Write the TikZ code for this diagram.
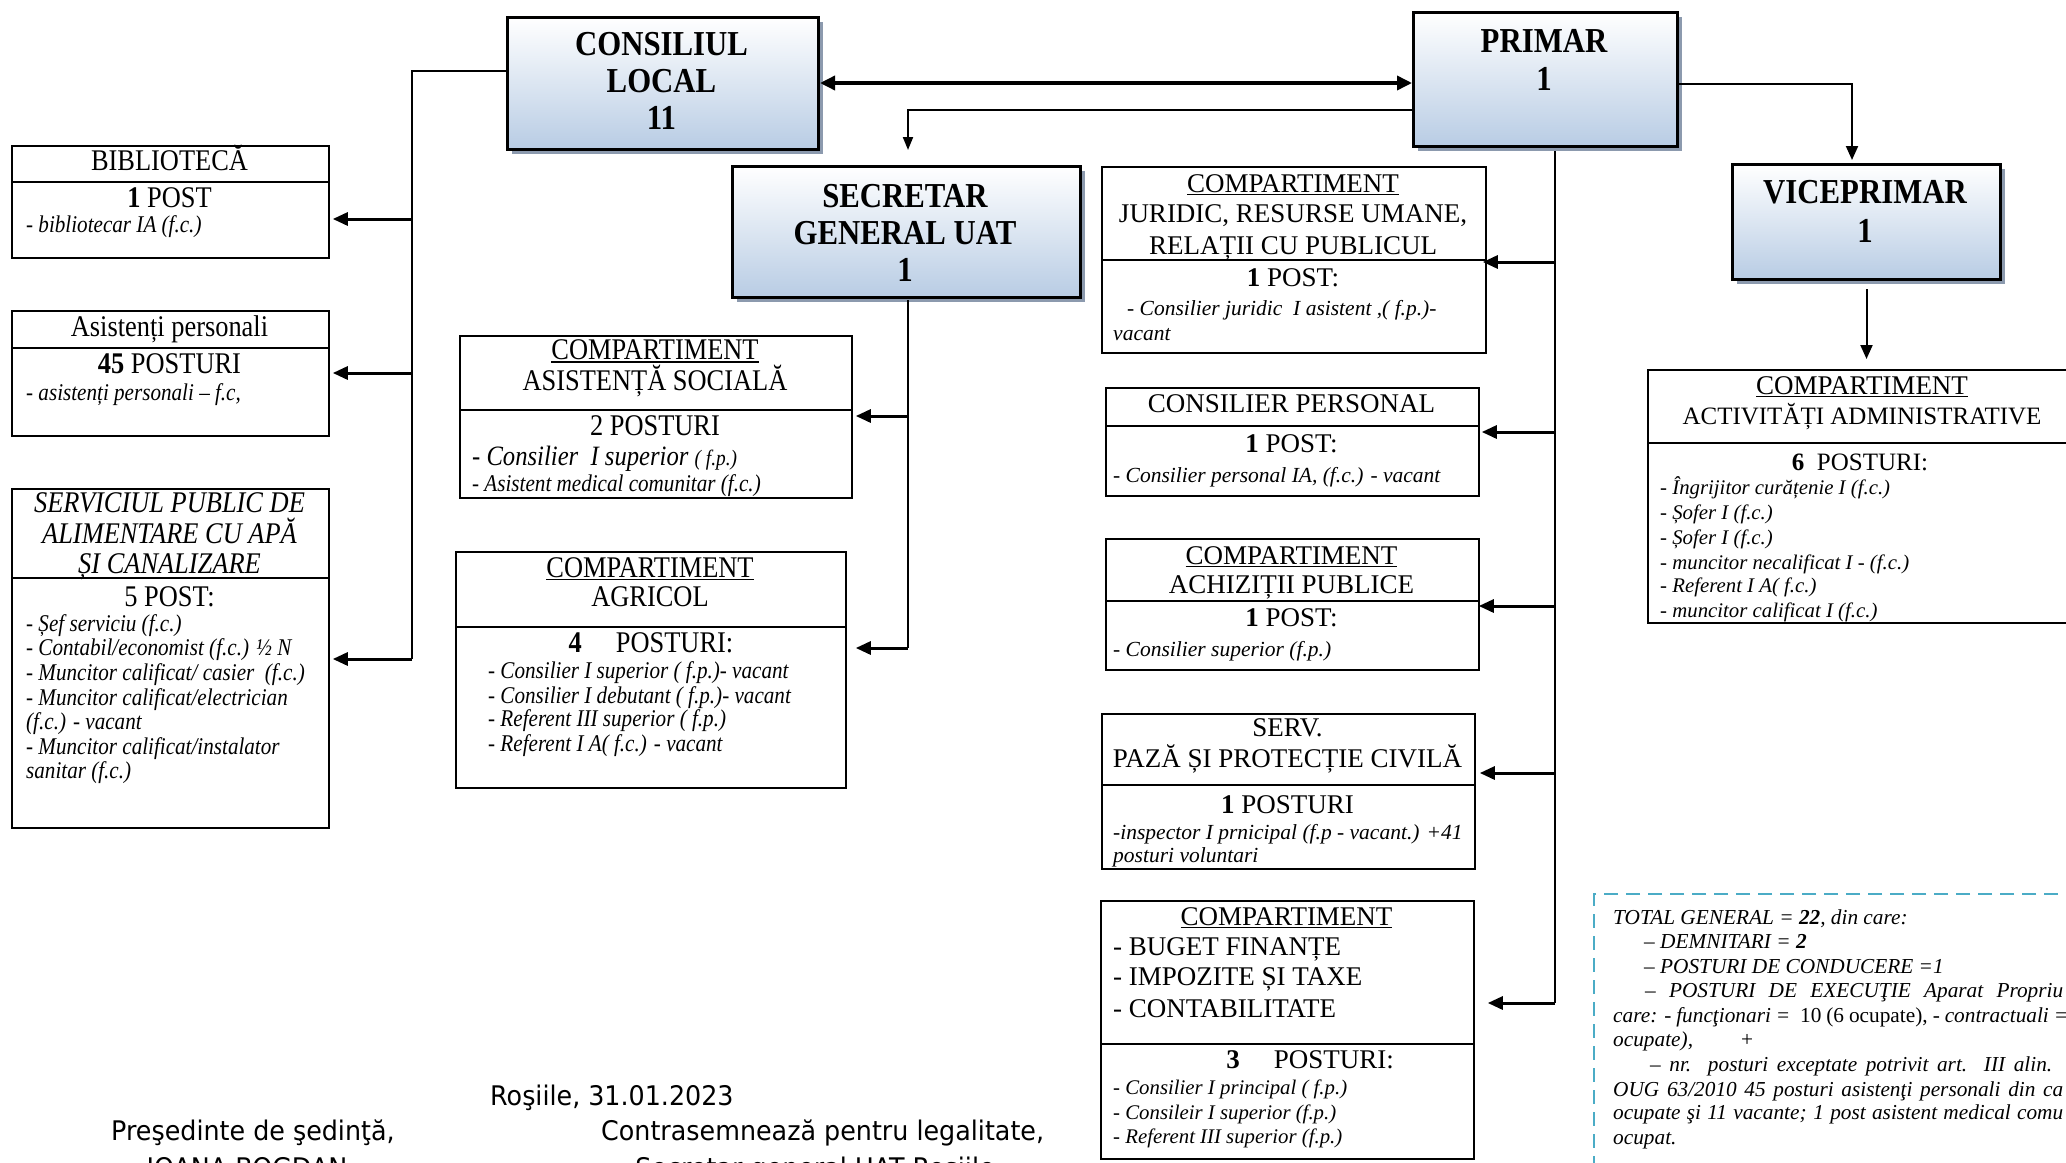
\documentclass[tikz,border=0pt]{standalone}
\usepackage{fontspec}
\setmainfont{Liberation Serif}
\newfontfamily\cserif[FakeStretch=0.88]{Liberation Serif}
\newfontfamily\csans[FakeStretch=0.94]{DejaVu Sans}
\usetikzlibrary{arrows.meta,calc,shadows}
\definecolor{boxblue}{HTML}{B8CCE4}
\definecolor{shadowc}{HTML}{8C9AAE}
\definecolor{dashc}{HTML}{4BACC6}
\newcommand\ulc[1]{\setbox0\hbox{#1}\rlap{\rule[-3pt]{\wd0}{1.2pt}}\box0}
\newcommand\fTop{\cserif\bfseries\fontsize{35}{37}\selectfont}
\newcommand\fLT{\cserif\fontsize{30}{31}\selectfont}
\newcommand\fLI{\cserif\itshape\fontsize{24}{25}\selectfont}
\newcommand\fRT{\fontsize{27}{30}\selectfont}
\newcommand\fRI{\itshape\fontsize{21.5}{24}\selectfont}
\newcommand\fAT{\fontsize{25}{28}\selectfont}
\newcommand\fAI{\itshape\fontsize{20.8}{24}\selectfont}
\newcommand\fTot{\itshape\fontsize{21.3}{24}\selectfont}
\newcommand\fSans{\csans\fontsize{27}{30}\selectfont}
\tikzset{
 topbox/.style 2 args={draw, line width=3pt, minimum width=#1pt, minimum height=#2pt, anchor=north west, inner sep=0pt, top color=white, bottom color=boxblue, drop shadow={shadow xshift=4pt, shadow yshift=-4pt, fill=shadowc, opacity=1}},
 orgbox/.style 2 args={draw, line width=1.8pt, minimum width=#1pt, minimum height=#2pt, anchor=north west, inner sep=0pt},
 divl/.style={line width=1.8pt},
 bus/.style={line width=2pt},
 stub/.style={line width=3pt, -{Triangle[length=15pt,width=13pt]}},
 t/.style={inner sep=0pt, anchor=base},
 tl/.style={inner sep=0pt, anchor=base west},
}
\begin{document}
\begin{tikzpicture}[x=1pt,y=-1pt]
\useasboundingbox (0,0) rectangle (2066,1162);
\fill[white] (0,0) rectangle (2066,1162);

% ---------- top boxes ----------
\node[topbox={311}{132}] (cl) at (506,16) {};
\node[topbox={264}{134}] (pr) at (1412,11) {};
\node[topbox={348}{131}] (sgu) at (731,165) {};
\node[topbox={268}{115}] (vice) at (1731,163) {};
\node[t] (clA) at (661.5,55) {\fTop CONSILIUL};
\node[t] (clB) at (661.5,92) {\fTop LOCAL};
\node[t] (clC) at (661.5,129) {\fTop 11};
\node[t] (prA) at (1544,52) {\fTop PRIMAR};
\node[t] (prB) at (1544,90) {\fTop 1};
\node[t] (sgA) at (905,207) {\fTop SECRETAR};
\node[t] (sgB) at (905,244) {\fTop GENERAL UAT};
\node[t] (sgC) at (905,281) {\fTop 1};
\node[t] (viA) at (1865,203) {\fTop VICEPRIMAR};
\node[t] (viB) at (1865,242) {\fTop 1};

% ---------- left column ----------
\node[orgbox={317}{112}] (bib) at (11,145) {};
\draw[divl] ($(bib.north west)+(0,37)$) -- ($(bib.north east)+(0,37)$);
\node[t] (bibT) at (169.5,170) {\fLT BIBLIOTECĂ};
\node[t] (bibP) at (169.5,207) {\fLT\textbf{1} POST};
\node[tl] (bib1) at (26,232) {\fLI - bibliotecar IA (f.c.)};

\node[orgbox={317}{125}] (asp) at (11,310) {};
\draw[divl] ($(asp.north west)+(0,38)$) -- ($(asp.north east)+(0,38)$);
\node[t] (aspT) at (169.5,336) {\fLT Asistenți personali};
\node[t] (aspP) at (169.5,373) {\fLT\textbf{45} POSTURI};
\node[tl] (asp1) at (26,400) {\fLI - asistenți personali – f.c,};

\node[orgbox={317}{339}] (spa) at (11,488) {};
\draw[divl] ($(spa.north west)+(0,90)$) -- ($(spa.north east)+(0,90)$);
\node[t] (spaT1) at (169.5,512) {\fLT\itshape SERVICIUL PUBLIC DE};
\node[t] (spaT2) at (169.5,543) {\fLT\itshape ALIMENTARE CU APĂ};
\node[t] (spaT3) at (169.5,573) {\fLT\itshape ȘI CANALIZARE};
\node[t] (spaP) at (169.5,606) {\fLT 5 POST:};
\node[tl] (spa1) at (26,631) {\fLI - Șef serviciu (f.c.)};
\node[tl] (spa2) at (26,655) {\fLI - Contabil/economist (f.c.) ½ N};
\node[tl] (spa3) at (26,680) {\fLI - Muncitor calificat/ casier\ \ (f.c.)};
\node[tl] (spa4) at (26,705) {\fLI - Muncitor calificat/electrician};
\node[tl] (spa5) at (26,729) {\fLI (f.c.) - vacant};
\node[tl] (spa6) at (26,754) {\fLI - Muncitor calificat/instalator};
\node[tl] (spa7) at (26,778) {\fLI sanitar (f.c.)};

% ---------- secretar column ----------
\node[orgbox={392}{162}] (asoc) at (459,335) {};
\draw[divl] ($(asoc.north west)+(0,75)$) -- ($(asoc.north east)+(0,75)$);
\node[t] (asocT1) at (655,359.5) {\fLT\ulc{COMPARTIMENT}};
\node[t] (asocT2) at (655,390) {\fLT ASISTENȚĂ SOCIALĂ};
\node[t] (asocP) at (655,435) {\fLT 2 POSTURI};
\node[tl] (asoc1) at (472,465) {\cserif\itshape\fontsize{28}{30}\selectfont - Consilier\ \ I superior {\fontsize{22}{24}\selectfont ( f.p.)}};
\node[tl] (asoc2) at (472,491) {\fLI - Asistent medical comunitar (f.c.)};

\node[orgbox={390}{236}] (agr) at (455,551) {};
\draw[divl] ($(agr.north west)+(0,76)$) -- ($(agr.north east)+(0,76)$);
\node[t] (agrT1) at (650,577) {\fLT\ulc{COMPARTIMENT}};
\node[t] (agrT2) at (650,606) {\fLT AGRICOL};
\node[t] (agrP) at (651,652) {\fLT\textbf{4}\hspace{34pt}POSTURI:};
\node[tl] (agr1) at (488,678) {\fLI - Consilier I superior ( f.p.)- vacant};
\node[tl] (agr2) at (488,703) {\fLI - Consilier I debutant ( f.p.)- vacant};
\node[tl] (agr3) at (488,726) {\fLI - Referent III superior ( f.p.)};
\node[tl] (agr4) at (488,751) {\fLI - Referent I A( f.c.) - vacant};

% ---------- primar column ----------
\node[orgbox={384}{186}] (jur) at (1101,166) {};
\draw[divl] ($(jur.north west)+(0,94)$) -- ($(jur.north east)+(0,94)$);
\node[t] (jurT1) at (1293,192) {\fRT\ulc{COMPARTIMENT}};
\node[t] (jurT2) at (1293,222) {\fRT JURIDIC, RESURSE UMANE,};
\node[t] (jurT3) at (1293,254) {\fRT RELAȚII CU PUBLICUL};
\node[t] (jurP) at (1293,286) {\fRT\textbf{1} POST:};
\node[tl] (jur1) at (1127,315) {\fRI {\upshape -} Consilier juridic\ \ I asistent ,( f.p.)-};
\node[tl] (jur2) at (1113,340) {\fRI vacant};

\node[orgbox={373}{108}] (cpers) at (1105,387) {};
\draw[divl] ($(cpers.north west)+(0,39)$) -- ($(cpers.north east)+(0,39)$);
\node[t] (cpT) at (1291.5,412) {\fRT CONSILIER PERSONAL};
\node[t] (cpP) at (1291.5,452) {\fRT\textbf{1} POST:};
\node[tl] (cp1) at (1113,482) {\fRI {\upshape -} Consilier personal IA, (f.c.) - vacant};

\node[orgbox={373}{131}] (achz) at (1105,538) {};
\draw[divl] ($(achz.north west)+(0,63)$) -- ($(achz.north east)+(0,63)$);
\node[t] (acT1) at (1291.5,564) {\fRT\ulc{COMPARTIMENT}};
\node[t] (acT2) at (1291.5,593) {\fRT ACHIZIȚII PUBLICE};
\node[t] (acP) at (1291.5,626) {\fRT\textbf{1} POST:};
\node[tl] (ac1) at (1113,656) {\fRI {\upshape -} Consilier superior (f.p.)};

\node[orgbox={373}{155}] (paza) at (1101,713) {};
\draw[divl] ($(paza.north west)+(0,72)$) -- ($(paza.north east)+(0,72)$);
\node[t] (pzT1) at (1287.5,736) {\fRT SERV.};
\node[t] (pzT2) at (1287.5,767) {\fRT PAZĂ ȘI PROTECȚIE CIVILĂ};
\node[t] (pzP) at (1287.5,813) {\fRT\textbf{1} POSTURI};
\node[tl] (pz1) at (1113,839) {\fRI -inspector I prnicipal (f.p - vacant.) +41};
\node[tl] (pz2) at (1113,862) {\fRI posturi voluntari};

\node[orgbox={373}{258}] (buget) at (1100,900) {};
\draw[divl] ($(buget.north west)+(0,144)$) -- ($(buget.north east)+(0,144)$);
\node[t] (bgT) at (1286.5,925) {\fRT\ulc{COMPARTIMENT}};
\node[tl] (bg1) at (1113,955) {\fRT - BUGET FINANȚE};
\node[tl] (bg2) at (1113,985) {\fRT - IMPOZITE ȘI TAXE};
\node[tl] (bg3) at (1113,1017) {\fRT - CONTABILITATE};
\node[t] (bgP) at (1310,1068) {\fRT\textbf{3}\hspace{34pt}POSTURI:};
\node[tl] (bgi1) at (1113,1094) {\fAI - Consilier I principal ( f.p.)};
\node[tl] (bgi2) at (1113,1119) {\fAI - Consileir I superior (f.p.)};
\node[tl] (bgi3) at (1113,1143) {\fAI - Referent III superior (f.p.)};

% ---------- viceprimar column ----------
\node[orgbox={430}{253}] (activ) at (1647,369) {};
\draw[divl] ($(activ.north west)+(0,74)$) -- ($(activ.north east)+(0,74)$);
\node[t] (avT1) at (1862,394) {\fRT\ulc{COMPARTIMENT}};
\node[t] (avT2) at (1862,424) {\fAT ACTIVITĂȚI ADMINISTRATIVE};
\node[t] (avP) at (1860,470) {\fAT\textbf{6}\ \ POSTURI:};
\node[tl] (av1) at (1660,494) {\fAI - Îngrijitor curățenie I (f.c.)};
\node[tl] (av2) at (1660,519) {\fAI - Șofer I (f.c.)};
\node[tl] (av3) at (1660,544) {\fAI - Șofer I (f.c.)};
\node[tl] (av4) at (1660,569) {\fAI - muncitor necalificat I - (f.c.)};
\node[tl] (av5) at (1660,592) {\fAI - Referent I A( f.c.)};
\node[tl] (av6) at (1660,617) {\fAI - muncitor calificat I (f.c.)};

% ---------- totals ----------
\node[draw=dashc, line width=2pt, dash pattern=on 14pt off 8pt, minimum width=500pt, minimum height=300pt, anchor=north west, inner sep=0pt] (tot) at (1593,893) {};
\node[tl] (tot1) at (1613,924) {\fTot TOTAL GENERAL = \textbf{22}, din care:};
\node[tl] (tot2) at (1644,948) {\fTot – DEMNITARI = \textbf{2}};
\node[tl] (tot3) at (1644,973) {\fTot – POSTURI DE CONDUCERE =1};
\node[tl] (tot4) at (1645,997) {\fTot\makebox[418pt][s]{– POSTURI DE EXECUŢIE Aparat Propriu}};
\node[tl] (tot5) at (1613,1022) {\fTot\makebox[455pt][s]{care: - funcţionari = \ {\upshape 10 (6 ocupate),} - contractuali =}};
\node[tl] (tot6) at (1613,1046) {\fTot ocupate),\hspace{48pt}{\upshape +}};
\node[tl] (tot7) at (1650,1071) {\fTot\makebox[402pt][s]{– nr. posturi exceptate potrivit art. III alin.}};
\node[tl] (tot8) at (1613,1096) {\fTot\makebox[450pt][s]{OUG 63/2010 45 posturi asistenţi personali din ca}};
\node[tl] (tot9) at (1613,1119) {\fTot\makebox[450pt][s]{ocupate şi 11 vacante; 1 post asistent medical comu}};
\node[tl] (tot10) at (1613,1144) {\fTot ocupat.};

% ---------- bottom signatures ----------
\node[tl] (date) at (490,1105) {\fSans Roşiile, 31.01.2023};
\node[tl] (pres) at (111,1140) {\fSans Preşedinte de şedinţă,};
\node[tl] (contra) at (601,1140) {\fSans Contrasemnează pentru legalitate,};
\node[t] (ioana) at (247,1177) {\fSans IOANA BOGDAN};
\node[t] (secr) at (815,1177) {\fSans Secretar general UAT Roşiile};

% ---------- connectors ----------
\coordinate (y83) at (0,83);
\draw[line width=3.5pt, {Triangle[length=15pt,width=14pt]}-{Triangle[length=15pt,width=14pt]}] (cl.east |- y83) -- (pr.west |- y83);

\coordinate (y110) at (0,110);
\draw[bus, -{Triangle[length=13pt,width=10pt]}] (pr.west |- y110) -| (908,150);

\coordinate (y84) at (0,84);
\draw[bus, -{Triangle[length=14pt,width=12pt]}] (pr.east |- y84) -| (1852,160);

\draw[bus, -{Triangle[length=14pt,width=12pt]}] ($(vice.south)+(0,8)$) -- ($(vice.south)+(0,78)$);

% left bus from consiliul local
\coordinate (L0) at (412,71);
\coordinate (L1) at (412,219);
\coordinate (L2) at (412,373);
\coordinate (L3) at (412,659);
\draw[bus] (cl.west |- L0) -- (L0) -- (L3);
\draw[stub] (L1) -- ($(bib.east |- L1)+(3,0)$);
\draw[stub] (L2) -- ($(asp.east |- L2)+(3,0)$);
\draw[stub] (L3) -- ($(spa.east |- L3)+(3,0)$);

% secretar bus
\coordinate (S1) at (908,416);
\coordinate (S2) at (908,648);
\draw[bus] (908,300) -- (S2);
\draw[stub] (S1) -- ($(asoc.east |- S1)+(3,0)$);
\draw[stub] (S2) -- ($(agr.east |- S2)+(9,0)$);

% primar bus
\coordinate (P0) at (1555,151);
\coordinate (P1) at (1555,262);
\coordinate (P2) at (1555,432);
\coordinate (P3) at (1555,606);
\coordinate (P4) at (1555,773);
\coordinate (P5) at (1555,1003);
\draw[bus] (P0) -- (P5);
\draw[stub] (P1) -- ($(jur.east |- P1)+(-4,0)$);
\draw[stub] (P2) -- ($(cpers.east |- P2)+(2,0)$);
\draw[stub] (P3) -- ($(achz.east |- P3)+(-1,0)$);
\draw[stub] (P4) -- ($(paza.east |- P4)+(4,0)$);
\draw[stub] (P5) -- ($(buget.east |- P5)+(13,0)$);
\end{tikzpicture}
\end{document}
